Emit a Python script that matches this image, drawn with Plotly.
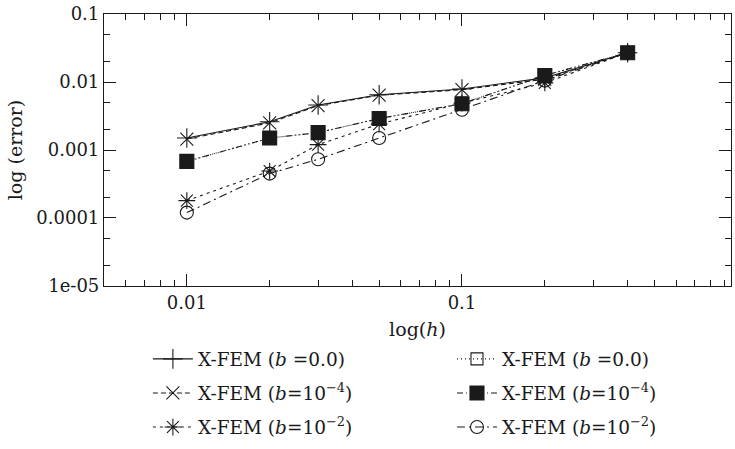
import plotly.graph_objects as go
import numpy as np

h = [0.01, 0.02, 0.03, 0.05, 0.1, 0.2, 0.4]

err_std_b0 = [0.0015, 0.0026, 0.0046, 0.0065, 0.0079, 0.0115, 0.027]
err_std_b4 = [0.00145, 0.0025, 0.0045, 0.0064, 0.0077, 0.011, 0.027]
err_std_b2 = [0.00018, 0.00049, 0.0012, 0.0024, 0.0049, 0.0097, 0.027]
err_enr_b0 = [0.00068, 0.0015, 0.0018, 0.0029, 0.0048, 0.0125, 0.027]
err_enr_b4 = [0.00068, 0.0015, 0.0018, 0.0029, 0.0048, 0.0125, 0.027]
err_enr_b2 = [0.00012, 0.00045, 0.00073, 0.0015, 0.0039, 0.0105, 0.027]

names = [
    "X-FEM (<i>b</i> =0.0)",
    "X-FEM (<i>b</i>=10<sup>−4</sup>)",
    "X-FEM (<i>b</i>=10<sup>−2</sup>)",
    "X-FEM (<i>b</i> =0.0)",
    "X-FEM (<i>b</i>=10<sup>−4</sup>)",
    "X-FEM (<i>b</i>=10<sup>−2</sup>)",
]
series = [err_std_b0, err_std_b4, err_std_b2, err_enr_b0, err_enr_b4, err_enr_b2]
symbols = ["cross-thin-open", "x-thin-open", "asterisk-open", "square-open", "square", "circle-open"]
sizes = [14, 13, 14, 12, 14, 13]
dashes = ["solid", "5px,3px", "3px,4px", "1px,3px", "6px,3px,1px,3px,1px,3px", "8px,4px,2px,4px"]
legends = ["legend", "legend", "legend", "legend2", "legend2", "legend2"]
draw_order = [0, 1, 2, 3, 5, 4]

FONT = "DejaVu Serif"
fig = go.Figure()
for i in draw_order:
    fig.add_trace(go.Scatter(
        x=h, y=series[i], name=names[i], mode="lines+markers",
        line=dict(color="#1a1a1a", width=1.1, dash=dashes[i]),
        marker=dict(symbol=symbols[i], size=sizes[i], color="#1a1a1a",
                    line=dict(color="#1a1a1a", width=1.1)),
        legend=legends[i], legendgroup=f"g{i}", legendrank=100 + i,
    ))

fig.update_layout(
    width=735, height=449,
    margin=dict(l=104, r=3, t=10, b=163),
    paper_bgcolor="white", plot_bgcolor="white",
    font=dict(family=FONT, size=18, color="#1a1a1a"),
    showlegend=True,
    legend=dict(x=0.07, y=-0.2, xanchor="left", yanchor="top",
                tracegroupgap=7, font=dict(family=FONT, size=18.5), itemwidth=40,
                bgcolor="rgba(0,0,0,0)"),
    legend2=dict(x=0.555, y=-0.2, xanchor="left", yanchor="top",
                 tracegroupgap=7, font=dict(family=FONT, size=18.5), itemwidth=40,
                 bgcolor="rgba(0,0,0,0)"),
)

fig.update_xaxes(
    type="log", range=[np.log10(0.005), np.log10(0.95)],
    tickvals=[0.01, 0.1], ticktext=["0.01", "0.1"],
    ticks="inside", ticklen=12, tickcolor="#1a1a1a",
    tickfont=dict(family=FONT, size=18), ticklabeloverflow="allow",
    showline=True, linecolor="#1a1a1a", linewidth=1.2, mirror="ticks",
    showgrid=False, zeroline=False,
    minor=dict(ticks="inside", ticklen=6, dtick="D1", tickcolor="#1a1a1a", showgrid=False),
    title=dict(text="log(<i>h</i>)", standoff=10, font=dict(family=FONT, size=19)),
)
fig.update_yaxes(
    type="log", range=[-5.0005, -0.9995],
    tickvals=[1e-5, 1e-4, 1e-3, 1e-2, 1e-1],
    ticktext=["1e-05", "0.0001", "0.001", "0.01", "0.1"],
    ticks="inside", ticklen=12, tickcolor="#1a1a1a",
    tickfont=dict(family=FONT, size=18), ticklabeloverflow="allow",
    showline=True, linecolor="#1a1a1a", linewidth=1.2, mirror="ticks",
    showgrid=False, zeroline=False,
    minor=dict(ticks="inside", ticklen=6, dtick="D2", tickcolor="#1a1a1a", showgrid=False),
    title=dict(text="log (error)", standoff=8, font=dict(family=FONT, size=19)),
)

fig.write_html("out.html")
